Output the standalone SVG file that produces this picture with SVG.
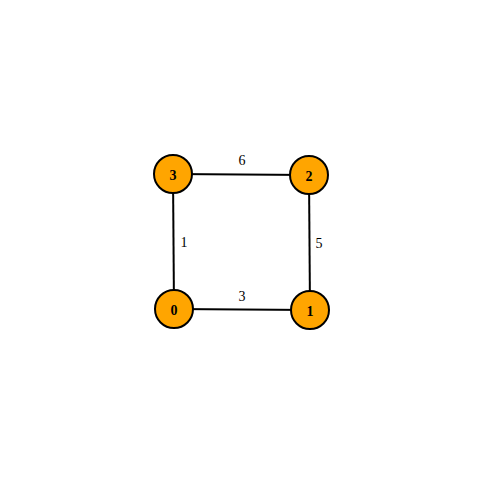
<svg xmlns="http://www.w3.org/2000/svg" width="484" height="484" viewBox="0 0 484 484">
<style>
.edge{stroke:#000;stroke-width:2;fill:none}
.node circle{fill:#FFA500;stroke:#000;stroke-width:2}
.node text{font-family:"Liberation Serif",serif;font-size:14px;font-weight:bold;text-anchor:middle;dominant-baseline:central;fill:#000}
.lbl{font-family:"Liberation Serif",serif;font-size:14px;text-anchor:middle;dominant-baseline:central;fill:#000}
</style>
<rect width="484" height="484" fill="#fff"/>
<g id="edges">
<line class="edge" x1="173" y1="174" x2="309" y2="175"/>
<line class="edge" x1="174" y1="309" x2="310" y2="310"/>
<line class="edge" x1="173" y1="174" x2="174" y2="309"/>
<line class="edge" x1="309" y1="175" x2="310" y2="310"/>
<text class="lbl" x="242" y="160">6</text>
<text class="lbl" x="242" y="296">3</text>
<text class="lbl" x="184" y="242">1</text>
<text class="lbl" x="319" y="243">5</text>
</g>
<g id="node3" class="node"><circle cx="173" cy="174" r="19"/><text x="173" y="175">3</text></g>
<g id="node2" class="node"><circle cx="309" cy="175" r="19"/><text x="309" y="176">2</text></g>
<g id="node0" class="node"><circle cx="174" cy="309" r="19"/><text x="174" y="310">0</text></g>
<g id="node1" class="node"><circle cx="310" cy="310" r="19"/><text x="310" y="311">1</text></g>
</svg>
